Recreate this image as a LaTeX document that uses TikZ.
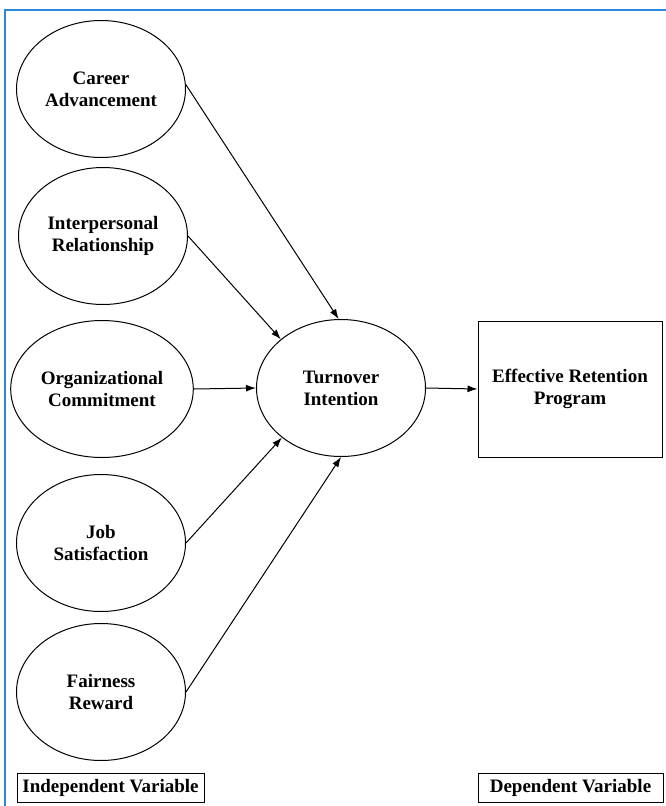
\documentclass[tikz,border=0pt]{standalone}
\usepackage{fontspec}
\setmainfont{Liberation Serif}
\usetikzlibrary{arrows.meta,shapes.geometric}
\definecolor{frameblue}{RGB}{45,135,220}
\tikzset{
  varell/.style={ellipse, draw, line width=1pt, minimum width=169pt, minimum height=137pt,
    align=center, font=\fontsize{19}{22}\selectfont\bfseries},
  varbox/.style={rectangle, draw, line width=1pt, align=center,
    font=\fontsize{19}{22}\selectfont\bfseries},
  link/.style={line width=1pt, -{Latex[length=10pt,width=7pt]}}
}
\begin{document}
\begin{tikzpicture}[x=1pt, y=-1pt]
\useasboundingbox (0,0) rectangle (665,806);
% FRAME
\draw[frameblue, line width=2pt] (666,10) -- (5,10) -- (5,807);
% INDEPENDENT
\node[varell] (career) at (101,89) {Career\\Advancement};
\node[varell] (interp) at (103,236) {Interpersonal\\Relationship};
\node[varell] (orgcom) at (102,389) {Organizational\\Commitment};
\node[varell] (jobsat) at (101,543) {Job\\Satisfaction};
\node[varell] (fair) at (101,692) {Fairness\\Reward};
% MEDIATOR AND DEPENDENT
\node[varell] (turnover) at (341,388) {Turnover\\Intention};
\node[varbox, minimum width=184pt, minimum height=136pt] (retention) at (570,389) {Effective Retention\\Program};
% LABELS
\node[varbox, minimum width=187pt, minimum height=29pt] (indep) at (110.5,787.5) {Independent Variable};
\node[varbox, minimum width=185pt, minimum height=29pt] (dep) at (570.5,787.5) {Dependent Variable};
% ARROWS
\draw[link] (career.3) -- (turnover.92);
\draw[link] (interp.east) -- (turnover.141);
\draw[link] (orgcom.east) -- (turnover.west);
\draw[link] (jobsat.east) -- (turnover.220);
\draw[link] (fair.east) -- (turnover.south);
\draw[link] (turnover.east) -- (retention.west);
\end{tikzpicture}
\end{document}
